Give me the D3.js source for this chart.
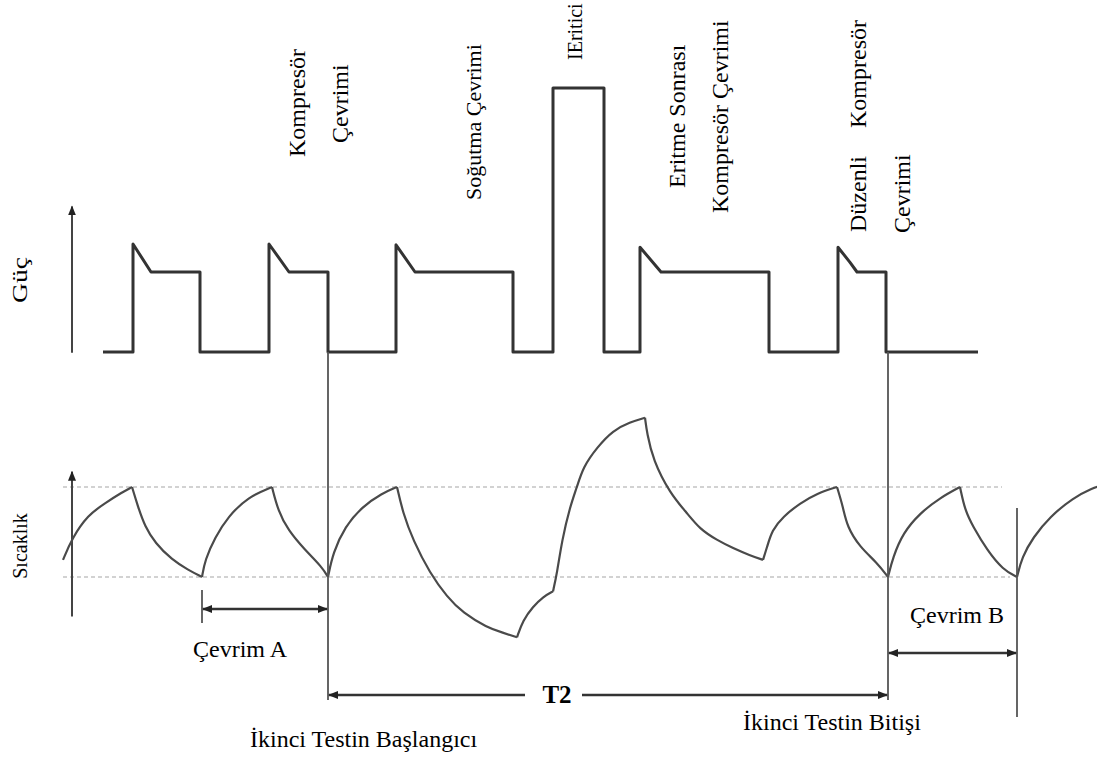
<!DOCTYPE html>
<html>
<head>
<meta charset="utf-8">
<script src="https://cdn.jsdelivr.net/npm/d3@7"></script>
<style>
    body { margin: 0; background: #fff; }
    text { font-family: "Liberation Serif", "Times New Roman", serif; fill: #000; }
</style>
</head>
<body>
<div id="chart"></div>
<script>
// time in minutes, power in W
var powerTimes = [21.5, 36.5, 36.5, 45.5, 70, 70, 104.5, 104.5, 114.5, 134, 134, 168, 168, 177.5, 226.5, 226.5,
    246.5, 246.5, 272, 272, 290, 290, 300.5, 354.5, 354.5, 389, 389, 395, 398.5, 413, 413, 459];
var powerValues = [0, 0, 135, 100, 100, 0, 0, 135, 100, 100, 0, 0, 134, 100, 100, 0,
    0, 330, 330, 0, 0, 131, 100, 100, 0, 0, 131, 112, 100, 100, 0, 0];

// temperature, 0 = lower thermostat limit, 10 = upper limit. one array per rise / fall
var tempSegments = [
    [[1.5, 1.9], [6, 4.3], [14, 6.9], [22.5, 8.2], [31, 9.4], [36, 10]],
    [[36, 10], [39, 7.8], [42.5, 5.6], [47.5, 3.8], [56, 1.9], [64, 0.8], [71, 0]],
    [[71, 0], [72.5, 1.9], [77.5, 4.4], [84, 6.7], [94, 8.9], [106, 10]],
    [[106, 10], [109, 7.4], [114, 5.2], [122.5, 3], [131, 1.1], [134, 0]],
    [[134, 0], [136.5, 2.7], [142.5, 5.6], [151, 7.8], [161, 9.3], [168.5, 10]],
    [[168.5, 10], [171.5, 7.1], [176.5, 4.1], [185, 0.4], [193.5, -2.2], [201.5, -4], [213.5, -5.6], [221.5, -6.2], [228.5, -6.7]],
    [[228.5, -6.7], [231.5, -4.8], [236.5, -3.3], [241.5, -2.2], [246.5, -1.6]],
    [[246.5, -1.6], [248.5, 0.4], [251, 4.1], [255, 7.8], [258.5, 10], [261.5, 12.2], [268.5, 14.4], [276.5, 16.3], [285, 17.2], [292.5, 17.7]],
    [[292.5, 17.7], [293.5, 16], [296.5, 13], [305, 9.3], [313.5, 7.1], [320, 5.3], [328.5, 4.1], [336.5, 3.2], [345, 2.4], [351.5, 1.9]],
    [[351.5, 1.9], [353.5, 3.3], [356, 5.2], [361.5, 6.7], [370, 8.2], [378.5, 9.3], [388.5, 10]],
    [[388.5, 10], [391.5, 7.8], [393.5, 5.6], [400, 3.3], [408.5, 1.6], [414, 0]],
    [[414, 0], [416.5, 2.2], [421.5, 4.9], [430, 7.1], [440, 8.8], [450, 10]],
    [[450, 10], [452.5, 7.4], [456.5, 5.6], [463.5, 3], [471.5, 0.8], [478.5, 0]],
    [[478.5, 0], [481, 2.2], [486.5, 4.4], [495, 6.7], [506.5, 8.8], [516.5, 9.9], [520, 10.1]]
];

// thermostat limits and where they are drawn
var limitValues = [10, 0];
var limitEnds = [471, 475];

// cycle marks (minutes)
var cycleAStart = 71;
var testStart = 134;
var testEnd = 414;
var cycleBEnd = 478.5;

var topLabels = ["Kompresör", "Çevrimi", "Soğutma Çevrimi", "IEritici", "Eritme Sonrası",
    "Kompresör Çevrimi", "Kompresör", "Düzenli", "Çevrimi"];

var width = 1097, height = 758;

var svg = d3.select("#chart").append("svg")
    .attr("width", width)
    .attr("height", height);

var xScale = d3.scaleLinear().domain([0, 520]).range([60, 1100]);
var powerY = d3.scaleLinear().domain([0, 400]).range([352, 32]);
var tempY = d3.scaleLinear().domain([0, 10]).range([577, 487]);

// arrow heads
var defs = svg.append("defs");
defs.append("marker")
    .attr("id", "head")
    .attr("viewBox", "0 0 10 10")
    .attr("refX", 9).attr("refY", 5)
    .attr("markerWidth", 10).attr("markerHeight", 10)
    .attr("markerUnits", "userSpaceOnUse")
    .attr("orient", "auto-start-reverse")
    .append("path")
    .attr("d", "M0,1 L10,5 L0,9 Z")
    .attr("fill", "#222");

// thermostat limits
svg.selectAll(".limit").data(limitValues).enter().append("line")
    .attr("class", "limit")
    .attr("x1", xScale(1.5))
    .attr("x2", function (d, i) { return xScale(limitEnds[i]); })
    .attr("y1", function (d) { return tempY(d); })
    .attr("y2", function (d) { return tempY(d); })
    .attr("stroke", "#c4c4c4")
    .attr("stroke-width", 1.5)
    .attr("stroke-dasharray", "4,3");

// y axes, just an arrow each
svg.append("line")
    .attr("x1", xScale(6)).attr("x2", xScale(6))
    .attr("y1", powerY(-1)).attr("y2", powerY(182))
    .attr("stroke", "#444").attr("stroke-width", 2)
    .attr("marker-end", "url(#head)");
svg.append("line")
    .attr("x1", xScale(6)).attr("x2", xScale(6))
    .attr("y1", tempY(-4.4)).attr("y2", tempY(11.7))
    .attr("stroke", "#444").attr("stroke-width", 2)
    .attr("marker-end", "url(#head)");

// power
var powerLine = d3.line()
    .x(function (d, i) { return xScale(powerTimes[i]); })
    .y(function (d) { return powerY(d); });

svg.append("path")
    .datum(powerValues)
    .attr("d", powerLine)
    .attr("fill", "none")
    .attr("stroke", "#333")
    .attr("stroke-width", 3)
    .attr("stroke-linejoin", "round");

// temperature
var tempLine = d3.line()
    .x(function (d) { return xScale(d[0]); })
    .y(function (d) { return tempY(d[1]); })
    .curve(d3.curveBasis);

svg.selectAll(".temp").data(tempSegments).enter().append("path")
    .attr("class", "temp")
    .attr("d", tempLine)
    .attr("fill", "none")
    .attr("stroke", "#4a4a4a")
    .attr("stroke-width", 2.2);

// vertical marks
var marks = [
    [testStart, 352, 700],
    [testEnd, 352, 700],
    [cycleBEnd, 508, 717],
    [cycleAStart, 590, 623]
];
svg.selectAll(".mark").data(marks).enter().append("line")
    .attr("class", "mark")
    .attr("x1", function (d) { return xScale(d[0]); })
    .attr("x2", function (d) { return xScale(d[0]); })
    .attr("y1", function (d) { return d[1]; })
    .attr("y2", function (d) { return d[2]; })
    .attr("stroke", "#555")
    .attr("stroke-width", 1.8);

// double arrows
function span(t1, t2, y) {
    svg.append("line")
        .attr("x1", xScale(t1) + 1).attr("x2", xScale(t2) - 1)
        .attr("y1", y).attr("y2", y)
        .attr("stroke", "#333").attr("stroke-width", 2.5)
        .attr("marker-start", "url(#head)")
        .attr("marker-end", "url(#head)");
}
span(cycleAStart, testStart, 609);
span(testEnd, cycleBEnd, 653);

// T2 arrow with gap for the label
svg.append("line")
    .attr("x1", xScale(testStart) + 1).attr("x2", 525)
    .attr("y1", 695).attr("y2", 695)
    .attr("stroke", "#333").attr("stroke-width", 2.5)
    .attr("marker-start", "url(#head)");
svg.append("line")
    .attr("x1", 582).attr("x2", xScale(testEnd) - 1)
    .attr("y1", 695).attr("y2", 695)
    .attr("stroke", "#333").attr("stroke-width", 2.5)
    .attr("marker-end", "url(#head)");
svg.append("text")
    .attr("x", 557).attr("y", 703)
    .attr("text-anchor", "middle")
    .style("font-size", "25px")
    .style("font-weight", "bold")
    .text("T2");

// rotated labels at the top: [centre x, bottom y, font size]
var topPos = [[297, 157, 24], [340, 143, 24], [473, 200, 22], [575, 60, 20], [677, 188, 24],
    [720, 213, 24], [858, 128, 24], [858, 232, 24], [902, 233, 24]];
svg.selectAll(".toplabel").data(topLabels).enter().append("text")
    .attr("class", "toplabel")
    .attr("transform", function (d, i) { return "translate(" + topPos[i][0] + "," + topPos[i][1] + ") rotate(-90)"; })
    .attr("dy", "0.35em")
    .style("font-size", function (d, i) { return topPos[i][2] + "px"; })
    .text(function (d) { return d; });

// axis titles
svg.append("text")
    .attr("transform", "translate(20,280) rotate(-90)")
    .attr("dy", "0.35em")
    .attr("text-anchor", "middle")
    .attr("textLength", 46)
    .attr("lengthAdjust", "spacingAndGlyphs")
    .style("font-size", "20px")
    .text("Güç");
svg.append("text")
    .attr("transform", "translate(20,546) rotate(-90)")
    .attr("dy", "0.35em")
    .attr("text-anchor", "middle")
    .style("font-size", "20px")
    .text("Sıcaklık");

// bottom labels
var bottomLabels = [
    ["Çevrim A", 193, 657],
    ["Çevrim B", 910, 623],
    ["İkinci Testin Bitişi", 743, 730],
    ["İkinci Testin Başlangıcı", 250, 747]
];
svg.selectAll(".bottomlabel").data(bottomLabels).enter().append("text")
    .attr("class", "bottomlabel")
    .attr("x", function (d) { return d[1]; })
    .attr("y", function (d) { return d[2]; })
    .style("font-size", "24px")
    .text(function (d) { return d[0]; });
</script>
</body>
</html>
